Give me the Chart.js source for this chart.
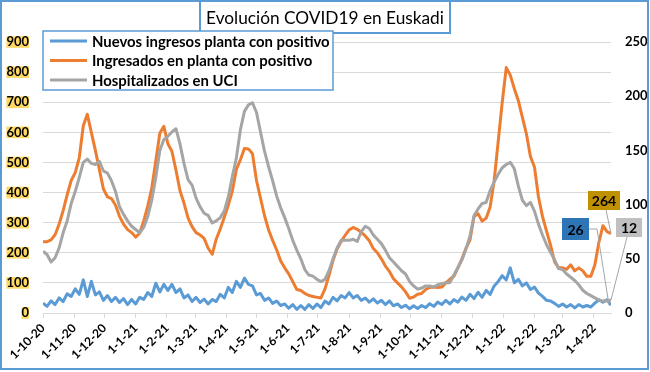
<!DOCTYPE html>
<html>
<head>
<meta charset="utf-8">
<script src="https://cdn.jsdelivr.net/npm/chart.js@4.4.1/dist/chart.umd.min.js"></script>
<style>
  body { margin: 0; background: #fff; }
</style>
</head>
<body>
<canvas id="myChart" width="650" height="372"></canvas>
<script>
const titulo = 'Evolución COVID19 en Euskadi';
const etiquetas = ['Nuevos ingresos planta con positivo', 'Ingresados en planta con positivo', 'Hospitalizados en UCI'];

// one value every 4 days from 1-10-2020
const inicio = new Date(2020, 9, 1);
const pasoDias = 4;
const meses = ['1-10-20','1-11-20','1-12-20','1-1-21','1-2-21','1-3-21','1-4-21','1-5-21','1-6-21',
  '1-7-21','1-8-21','1-9-21','1-10-21','1-11-21','1-12-21','1-1-22','1-2-22','1-3-22','1-4-22'];

const nuevosIngresos = [33,22,40,28,50,38,64,55,80,62,
  110,55,105,60,70,42,58,38,52,35,
  48,28,45,30,52,45,68,55,99,70,
  95,75,95,68,80,50,60,38,52,35,
  46,30,45,38,62,50,85,68,105,85,
  116,95,90,60,65,42,50,32,40,25,
  30,16,28,12,25,12,28,15,30,18,
  40,30,52,40,58,50,68,50,58,42,
  50,36,47,33,42,28,40,24,30,18,
  26,14,24,15,25,18,31,22,36,28,
  42,30,45,36,53,42,62,48,69,52,
  75,62,90,105,124,110,150,100,112,90,
  100,78,86,66,55,42,40,32,22,30,
  20,28,17,28,20,25,20,33,44,36,
  44,26];

const ingresadosPlanta = [237,237,243,260,295,340,392,440,466,515,
  622,660,600,540,476,412,386,380,358,321,
  295,277,267,252,265,306,355,415,505,597,
  620,562,537,475,407,365,316,287,267,259,
  248,215,195,245,279,318,358,405,477,509,
  546,545,529,440,381,323,276,241,210,173,
  150,130,104,78,75,65,58,55,52,50,
  80,125,175,212,237,258,276,284,278,268,
  256,240,214,200,180,156,138,114,100,87,
  70,49,53,62,65,78,85,86,85,86,
  100,112,122,150,180,215,243,320,330,305,
  315,352,440,570,700,815,790,745,705,650,
  595,520,485,385,320,272,225,170,150,150,
  145,160,140,150,140,122,122,160,235,290,
  270,264];

// right axis
const hospitalizadosUci = [57,54,47,51,60,74,85,101,112,125,
  139,142,138,137,140,131,129,122,112,98,
  91,85,80,77,74,79,89,104,125,150,
  160,163,167,170,156,138,123,118,106,98,
  92,90,83,85,88,94,107,126,143,169,
  186,192,194,185,167,149,135,122,108,97,
  88,78,67,58,50,40,35,34,31,29,
  31,39,50,60,67,67,67,68,66,75,
  80,78,72,68,64,58,51,47,43,39,
  36,29,25,22,23,25,25,24,26,27,
  28,28,35,42,49,59,71,90,96,101,
  102,113,121,128,134,137,139,133,117,104,
  99,102,94,82,72,63,56,49,41,40,
  36,33,30,26,21,18,16,14,12,11,
  11,12];

const azul = '#5B9BD5', naranja = '#ED7D31', gris = '#A5A5A5';
const fuente = 'Lato, "Open Sans", sans-serif';

function diaDe(label) {
  const p = label.split('-').map(Number);
  return Math.round((new Date(2000 + p[2], p[1] - 1, p[0]) - inicio) / 86400000);
}
const diasMes = meses.map(diaDe);
const ultimoDia = (ingresadosPlanta.length - 1) * pasoDias;

function puntos(arr) {
  return arr.map((v, i) => ({ x: i * pasoDias, y: v }));
}

function ajustar(ctx, texto, peso, ancho) {
  ctx.font = peso + ' 20px ' + fuente;
  return 20 * ancho / ctx.measureText(texto).width;
}

const dibujos = {
  id: 'dibujos',
  beforeDraw(chart) {
    const c = chart.ctx;
    c.save();
    c.fillStyle = '#fff';
    c.fillRect(0, 0, chart.width, chart.height);
    c.restore();
  },
  afterDraw(chart) {
    const c = chart.ctx;
    c.save();
    // marco
    c.strokeStyle = '#5B9BD5';
    c.lineWidth = 2;
    c.strokeRect(1, 1, 647, 368);

    // titulo
    c.fillStyle = '#fff';
    c.fillRect(200, 1, 250, 32);
    c.strokeRect(200, 1, 250, 32);
    const ft = ajustar(c, titulo, 'normal', 238);
    c.font = 'normal ' + ft + 'px ' + fuente;
    c.fillStyle = '#000';
    c.textAlign = 'center';
    c.textBaseline = 'middle';
    c.fillText(titulo, 325, 18);

    // leyenda
    c.fillStyle = '#fff';
    c.fillRect(43, 31, 290, 59);
    c.lineWidth = 1.5;
    c.strokeRect(43, 31, 290, 59);
    const fl = ajustar(c, etiquetas[0], 'bold', 238);
    c.font = 'bold ' + fl + 'px ' + fuente;
    c.textAlign = 'left';
    chart.data.datasets.forEach((ds, i) => {
      const y = 41 + i * 19.5;
      c.strokeStyle = ds.borderColor;
      c.lineWidth = 3;
      c.beginPath();
      c.moveTo(50, y);
      c.lineTo(87, y);
      c.stroke();
      c.fillStyle = '#000';
      c.fillText(ds.label, 92, y + 1);
    });

    // etiquetas de los ultimos valores
    const fin = i => { const d = chart.getDatasetMeta(i).data; return d[d.length - 1]; };
    const pB = fin(0), pO = fin(1), pG = fin(2);
    c.strokeStyle = '#A6A6A6';
    c.lineWidth = 1;
    c.beginPath();
    c.moveTo(589, 229); c.lineTo(597, 229); c.lineTo(pB.x - 2, pB.y);
    c.moveTo(606, 210); c.lineTo(pO.x, pO.y);
    c.moveTo(627, 237); c.lineTo(pG.x, pG.y);
    c.stroke();

    const caja = (x, y, w, h, bg, txt) => {
      c.fillStyle = bg;
      c.fillRect(x, y, w, h);
      c.fillStyle = '#000';
      c.font = 'bold 14px ' + fuente;
      c.textAlign = 'center';
      c.textBaseline = 'middle';
      c.fillText(txt, x + w / 2, y + h / 2 + 1);
    };
    caja(588, 191, 32, 19, '#BF9000', String(ingresadosPlanta[ingresadosPlanta.length - 1]));
    caja(562, 218, 27, 22, '#2E75B6', String(nuevosIngresos[nuevosIngresos.length - 1]));
    caja(616, 218, 26, 19, '#C0C0C0', String(hospitalizadosUci[hospitalizadosUci.length - 1]));
    c.restore();
  }
};

new Chart(document.getElementById('myChart'), {
  type: 'line',
  data: {
    datasets: [
      { label: etiquetas[0], data: puntos(nuevosIngresos), borderColor: azul, backgroundColor: azul, yAxisID: 'y', order: 3 },
      { label: etiquetas[1], data: puntos(ingresadosPlanta), borderColor: naranja, backgroundColor: naranja, yAxisID: 'y', order: 2 },
      { label: etiquetas[2], data: puntos(hospitalizadosUci), borderColor: gris, backgroundColor: gris, yAxisID: 'y2', order: 1 }
    ]
  },
  options: {
    responsive: false,
    animation: false,
    devicePixelRatio: 1,
    layout: { padding: { top: 42, left: 0, right: 0, bottom: 0 } },
    elements: {
      point: { radius: 0 },
      line: { borderWidth: 3, tension: 0, borderJoinStyle: 'round' }
    },
    plugins: {
      legend: { display: false },
      title: { display: false },
      tooltip: { enabled: false }
    },
    scales: {
      x: {
        type: 'linear',
        min: 0,
        max: ultimoDia,
        afterBuildTicks: s => { s.ticks = diasMes.map(v => ({ value: v })); },
        afterFit: s => { s.height = 59; },
        ticks: {
          autoSkip: false,
          maxRotation: 45,
          minRotation: 45,
          padding: 3,
          color: '#000',
          font: { family: fuente, size: 12, weight: 'bold' },
          callback: v => meses[diasMes.indexOf(v)]
        },
        grid: { drawOnChartArea: false, drawTicks: true, tickLength: 5, color: '#D9D9D9' },
        border: { color: '#D9D9D9' }
      },
      y: {
        position: 'left',
        min: 0,
        max: 900,
        afterFit: s => { s.width = 43; },
        ticks: {
          stepSize: 100,
          padding: 14,
          color: '#000',
          font: { family: fuente, size: 13, weight: 'bold', lineHeight: 0.9 },
          showLabelBackdrop: true,
          backdropColor: '#FFD966',
          backdropPadding: 0
        },
        grid: { color: '#D9D9D9', drawTicks: false },
        border: { display: false }
      },
      y2: {
        position: 'right',
        min: 0,
        max: 250,
        afterFit: s => { s.width = 39; },
        ticks: {
          stepSize: 50,
          padding: 14,
          color: '#000',
          font: { family: fuente, size: 13, weight: 'bold' }
        },
        grid: { drawOnChartArea: false, drawTicks: false },
        border: { display: false }
      }
    }
  },
  plugins: [dibujos]
});
</script>
</body>
</html>
